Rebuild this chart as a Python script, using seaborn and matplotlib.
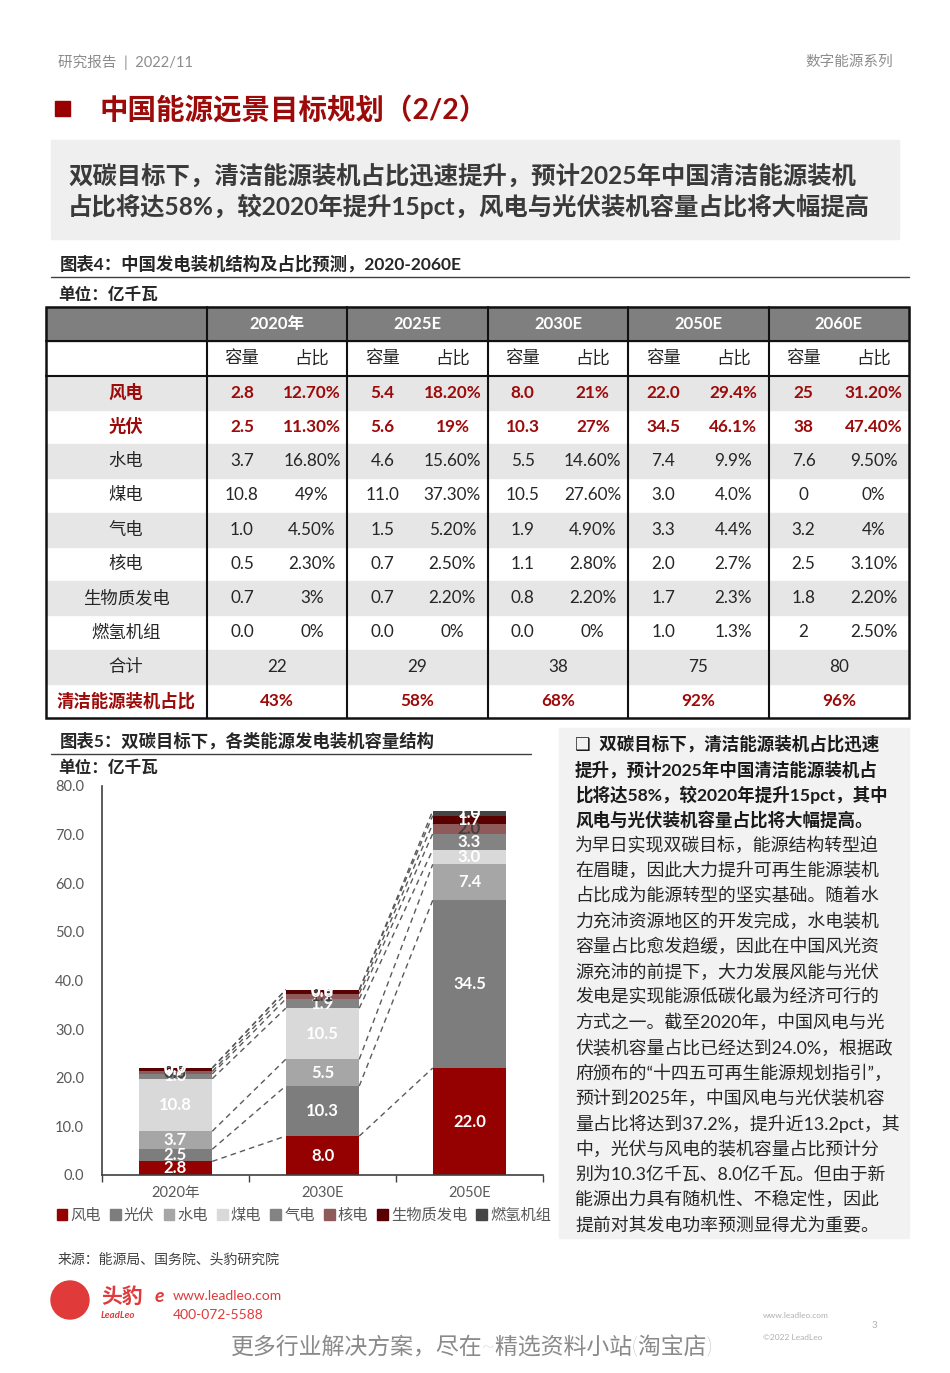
import numpy as np
import matplotlib
matplotlib.use("Agg")
import matplotlib.pyplot as plt
from matplotlib.patches import Rectangle, Patch, Circle
import seaborn as sns

# chart 5 data, 亿千瓦
years = ["2020年", "2030E", "2050E"]
sources = ["风电", "光伏", "水电", "煤电", "气电", "核电", "生物质发电", "燃氢机组"]
wind = [2.8, 8.0, 22.0]
solar = [2.5, 10.3, 34.5]
hydro = [3.7, 5.5, 7.4]
coal = [10.8, 10.5, 3.0]
gas = [1.0, 1.9, 3.3]
nuclear = [0.5, 1.1, 2.0]
biomass = [0.7, 0.8, 1.7]
hydrogen = [0.0, 0.0, 1.0]

# table 4 data
table_years = ["2020年", "2025E", "2030E", "2050E", "2060E"]
cap_2020 = ["2.8", "2.5", "3.7", "10.8", "1.0", "0.5", "0.7", "0.0"]
pct_2020 = ["12.70%", "11.30%", "16.80%", "49%", "4.50%", "2.30%", "3%", "0%"]
cap_2025 = ["5.4", "5.6", "4.6", "11.0", "1.5", "0.7", "0.7", "0.0"]
pct_2025 = ["18.20%", "19%", "15.60%", "37.30%", "5.20%", "2.50%", "2.20%", "0%"]
cap_2030 = ["8.0", "10.3", "5.5", "10.5", "1.9", "1.1", "0.8", "0.0"]
pct_2030 = ["21%", "27%", "14.60%", "27.60%", "4.90%", "2.80%", "2.20%", "0%"]
cap_2050 = ["22.0", "34.5", "7.4", "3.0", "3.3", "2.0", "1.7", "1.0"]
pct_2050 = ["29.4%", "46.1%", "9.9%", "4.0%", "4.4%", "2.7%", "2.3%", "1.3%"]
cap_2060 = ["25", "38", "7.6", "0", "3.2", "2.5", "1.8", "2"]
pct_2060 = ["31.20%", "47.40%", "9.50%", "0%", "4%", "3.10%", "2.20%", "2.50%"]
totals = ["22", "29", "38", "75", "80"]
clean_share = ["43%", "58%", "68%", "92%", "96%"]

# right hand text
bold_lines = ["❑  双碳目标下，清洁能源装机占比迅速",
              "提升，预计2025年中国清洁能源装机占",
              "比将达58%，较2020年提升15pct，其中",
              "风电与光伏装机容量占比将大幅提高。"]
body_lines = ["为早日实现双碳目标，能源结构转型迫",
              "在眉睫，因此大力提升可再生能源装机",
              "占比成为能源转型的坚实基础。随着水",
              "力充沛资源地区的开发完成，水电装机",
              "容量占比愈发趋缓，因此在中国风光资",
              "源充沛的前提下，大力发展风能与光伏",
              "发电是实现能源低碳化最为经济可行的",
              "方式之一。截至2020年，中国风电与光",
              "伏装机容量占比已经达到24.0%，根据政",
              "府颁布的“十四五可再生能源规划指引”，",
              "预计到2025年，中国风电与光伏装机容",
              "量占比将达到37.2%，提升近13.2pct，其",
              "中，光伏与风电的装机容量占比预计分",
              "别为10.3亿千瓦、8.0亿千瓦。但由于新",
              "能源出力具有随机性、不稳定性，因此",
              "提前对其发电功率预测显得尤为重要。"]

colors = ["#950000", "#7d7d7d", "#a6a6a6", "#d9d9d9", "#838383", "#8f5a5a", "#5a0000", "#454545"]
lab_colors = ["white", "white", "white", "white", "white", "#404040", "white", "white"]
RED = "#9c0a0a"
DARK = "#262626"

sns.set_theme(style="white")
plt.rcParams['font.family'] = ['Lato', 'Noto Sans CJK SC', 'DejaVu Sans']

fig = plt.figure(figsize=(9.5, 13.73), dpi=100)

# page background axes in pixel coords
bg = fig.add_axes([0, 0, 1, 1])
bg.set_xlim(0, 950)
bg.set_ylim(1373, 0)
bg.axis("off")

#header
bg.text(58, 62, "研究报告  |  2022/11", fontsize=10.5, color="#8c8c8c", va="center")
bg.text(893, 62, "数字能源系列", fontsize=10.5, color="#8c8c8c", va="center", ha="right")
bg.add_patch(Rectangle((55, 101), 15, 15, color="#9b0000"))
bg.text(100, 110, "中国能源远景目标规划（2/2）", fontsize=20.5, color=RED, va="center", fontweight="bold")

#summary box
bg.add_patch(Rectangle((51, 140), 848, 99, color="#efefef"))
bg.text(68, 177, "双碳目标下，清洁能源装机占比迅速提升，预计2025年中国清洁能源装机",
        fontsize=17.6, color="#3a3a3a", va="center", fontweight="bold")
bg.text(68, 206, "占比将达58%，较2020年提升15pct，风电与光伏装机容量占比将大幅提高",
        fontsize=17.6, color="#3a3a3a", va="center", fontweight="bold")

#table 4
bg.text(60, 264, "图表4：中国发电装机结构及占比预测，2020-2060E", fontsize=12.5, color=DARK,
        va="center", fontweight="bold")
bg.plot([51, 909], [277, 277], color="#404040", lw=1)
bg.text(58, 295, "单位：亿千瓦", fontsize=12, color=DARK, va="center", fontweight="bold")

t_left, t_right, t_top = 46, 909, 307
rh = (718 - 307) / 12
col0 = 207
gw = (t_right - col0) / 5
row_y = [t_top + rh * k for k in range(13)]

bg.add_patch(Rectangle((t_left, row_y[0]), t_right - t_left, rh, color="#7f7f7f"))
for k in range(10):
    if k % 2 == 0 and k < 9:
        bg.add_patch(Rectangle((t_left, row_y[k + 2]), t_right - t_left, rh, color="#e7e6e6"))

for g, yr in enumerate(table_years):
    gx = col0 + gw * g
    bg.text(gx + gw / 2, (row_y[0] + row_y[1]) / 2, yr, fontsize=12, color="white",
            fontweight="bold", ha="center", va="center")
    bg.text(gx + 35, (row_y[1] + row_y[2]) / 2, "容量", fontsize=12.5, color=DARK, ha="center", va="center")
    bg.text(gx + 105, (row_y[1] + row_y[2]) / 2, "占比", fontsize=12.5, color=DARK, ha="center", va="center")

caps = [cap_2020, cap_2025, cap_2030, cap_2050, cap_2060]
pcts = [pct_2020, pct_2025, pct_2030, pct_2050, pct_2060]
for r, name in enumerate(sources):
    yc = (row_y[r + 2] + row_y[r + 3]) / 2
    red = r < 2
    c = RED if red else DARK
    w = "bold" if red else "normal"
    bg.text(126, yc, name, fontsize=12.5, color=c, fontweight=w, ha="center", va="center")
    for g in range(5):
        gx = col0 + gw * g
        bg.text(gx + 35, yc, caps[g][r], fontsize=12.3, color=c, fontweight=w, ha="center", va="center")
        bg.text(gx + 105, yc, pcts[g][r], fontsize=12.3, color=c, fontweight=w, ha="center", va="center")

yc = (row_y[10] + row_y[11]) / 2
bg.text(126, yc, "合计", fontsize=12.5, color=DARK, ha="center", va="center")
yc2 = (row_y[11] + row_y[12]) / 2
bg.text(126, yc2, "清洁能源装机占比", fontsize=12.5, color=RED, fontweight="bold", ha="center", va="center")
for g in range(5):
    gx = col0 + gw * g
    bg.text(gx + gw / 2, yc, totals[g], fontsize=12.3, color=DARK, ha="center", va="center")
    bg.text(gx + gw / 2, yc2, clean_share[g], fontsize=12.3, color=RED, fontweight="bold", ha="center", va="center")

bg.add_patch(Rectangle((t_left, t_top), t_right - t_left, row_y[12] - t_top, fill=False, ec="#111111", lw=1.8))
for g in range(5):
    gx = col0 + gw * g
    bg.plot([gx, gx], [t_top, row_y[12]], color="#111111", lw=1.5)
bg.plot([t_left, t_right], [row_y[1], row_y[1]], color="#111111", lw=1.5)
bg.plot([t_left, t_right], [row_y[2], row_y[2]], color="#111111", lw=1.5)

#chart 5 titles
bg.text(60, 741, "图表5：双碳目标下，各类能源发电装机容量结构", fontsize=12.5, color=DARK,
        va="center", fontweight="bold")
bg.plot([51, 531], [754, 754], color="#404040", lw=1)
bg.text(58, 768, "单位：亿千瓦", fontsize=12, color=DARK, va="center", fontweight="bold")

#right text box
bg.add_patch(Rectangle((559, 728), 350, 510, color="#f2f2f2"))
for i, line in enumerate(bold_lines + body_lines):
    y = 744 + 25.3 * i
    if i < 4:
        bg.text(575, y, line, fontsize=12.6, color="#1a1a1a", va="center", fontweight="bold")
    else:
        bg.text(575, y, line, fontsize=12.9, color="#262626", va="center")

#footer
bg.text(58, 1259, "来源：能源局、国务院、头豹研究院", fontsize=10, color="#404040", va="center")
bg.add_patch(Circle((70, 1300), 19, color="#e03a3a"))
bg.text(101, 1297, "头豹", fontsize=15, color="#e03a3a", va="center", fontweight="bold")
bg.text(101, 1316, "LeadLeo", fontsize=7, color="#e03a3a", va="center", fontweight="bold", style="italic")
bg.text(155, 1296, "e", fontsize=14, color="#e03a3a", va="center", fontweight="bold", style="italic")
bg.text(173, 1296, "www.leadleo.com", fontsize=10, color="#e03a3a", va="center")
bg.text(173, 1315, "400-072-5588", fontsize=10, color="#e03a3a", va="center")
bg.text(763, 1316, "www.leadleo.com", fontsize=6, color="#b0b0b0", va="center")
bg.text(763, 1337, "©2022 LeadLeo", fontsize=6, color="#b0b0b0", va="center")
bg.text(872, 1326, "3", fontsize=7, color="#b0b0b0", va="center")
bg.text(472, 1347, "更多行业解决方案，尽在~精选资料小站(淘宝店)", fontsize=16.5, color="#8a8a8a",
        ha="center", va="center", fontweight="light")

# stacked bar chart
ax = fig.add_axes([102 / 950, 1 - 1175 / 1373, 441 / 950, 389 / 1373])
ax.patch.set_alpha(0)
series = [wind, solar, hydro, coal, gas, nuclear, biomass, hydrogen]
cum = np.cumsum(np.array(series), axis=0)

#draw cumulative totals back to front so they look stacked
for j in range(len(series) - 1, -1, -1):
    sns.barplot(x=years, y=cum[j], color=colors[j], width=0.5, saturation=1,
                errorbar=None, linewidth=0, ax=ax)

#dashed series lines
for j in range(len(series)):
    for i in range(2):
        ax.plot([i + 0.25, i + 0.75], [cum[j][i], cum[j][i + 1]], color="#5a5a5a",
                lw=1, ls=(0, (4, 3)), zorder=1)

#value labels
for j in range(len(series)):
    for i in range(3):
        v = series[j][i]
        base = cum[j][i] - v
        ax.text(i, base + v / 2, f"{v:.1f}", ha="center", va="center", fontsize=12,
                color=lab_colors[j], fontweight="bold", zorder=5)

ax.set_ylim(0, 80)
ax.set_xlim(-0.5, 2.5)
ax.set_yticks(np.arange(0, 81, 10))
ax.set_yticklabels([f"{t:.1f}" for t in np.arange(0, 81, 10)], fontsize=10.5, color="#595959")
ax.set_xticks([0, 1, 2])
ax.set_xticklabels(years, fontsize=10.5, color="#595959")
ax.set_xticks([-0.5, 0.5, 1.5, 2.5], minor=True)
ax.tick_params(axis="x", which="major", length=0, pad=8)
ax.tick_params(axis="x", which="minor", length=5, width=1, color="#404040", direction="out", bottom=True)
ax.tick_params(axis="y", length=0, pad=13)
ax.set_xlabel("")
ax.set_ylabel("")
for s in ["top", "right"]:
    ax.spines[s].set_visible(False)
ax.spines["left"].set_color("#404040")
ax.spines["bottom"].set_color("#404040")
ax.spines["left"].set_linewidth(1.2)
ax.spines["bottom"].set_linewidth(1.2)
ax.grid(False)

handles = [Patch(color=c) for c in colors]
ax.legend(handles, sources, ncol=8, loc="center", bbox_to_anchor=(0.458, -0.105),
          frameon=False, handlelength=0.7, handleheight=0.7, handletextpad=0.2,
          columnspacing=0.6, fontsize=11, labelcolor="#595959", borderaxespad=0)

fig.savefig("out.png", dpi=100)
